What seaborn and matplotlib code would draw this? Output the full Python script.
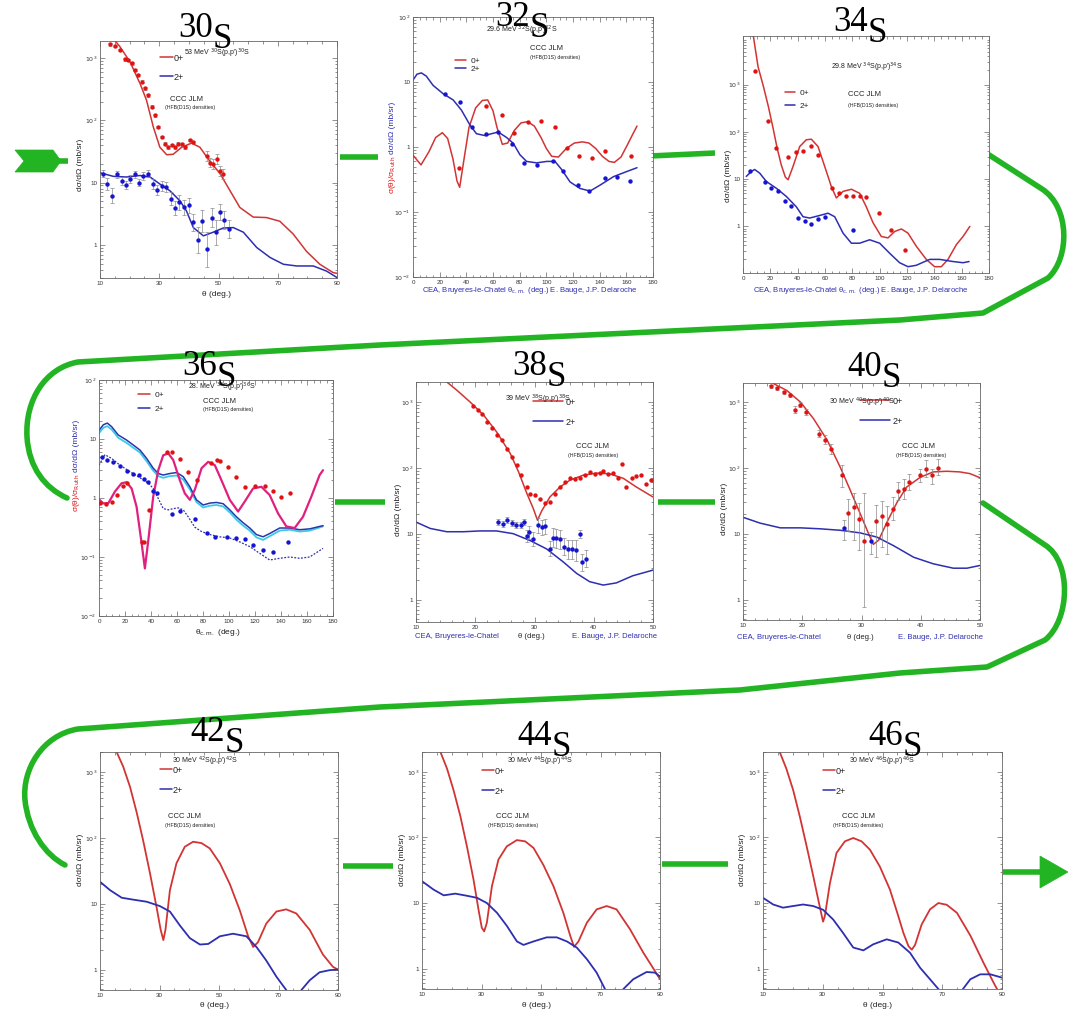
import numpy as np
import matplotlib
matplotlib.use("Agg")
import matplotlib.pyplot as plt
from matplotlib.ticker import FixedLocator, FixedFormatter, LogLocator, NullFormatter, MultipleLocator
from matplotlib.lines import Line2D
from matplotlib.path import Path
from matplotlib.patches import PathPatch, Polygon
import seaborn as sns

sns.set_style("ticks")
plt.rcParams["font.family"] = ["Liberation Sans", "DejaVu Sans"]

# === Data (theta in deg, cross sections) ===
# 30S, 53 MeV
s30_th_0p = [13, 16.7, 20.1, 23.5, 25.7, 28, 30.2, 32.5, 34.7, 37.6, 40.9, 43.7, 47.1, 50.5, 53.9, 57.2, 61.7, 66.2, 70.7, 75.2, 79.7, 84.2, 88.7, 90]
s30_xs_0p = [2500, 1520, 870, 390, 210, 78, 37, 28, 28.5, 37, 43, 37, 22, 14, 7.4, 4.0, 2.8, 2.75, 2.4, 1.5, 0.79, 0.49, 0.36, 0.35]
s30_th_2p = [10, 14.5, 19, 23.5, 26.9, 30.2, 33.6, 37, 39.2, 41.5, 44.9, 48.2, 51.6, 55, 58.4, 62.9, 67.4, 71.9, 76.4, 82, 86.5, 90]
s30_xs_2p = [14.4, 12.6, 12.3, 13, 12.3, 9.5, 7.4, 5.1, 3.5, 1.9, 1.4, 1.6, 1.87, 1.9, 1.6, 0.91, 0.63, 0.49, 0.46, 0.46, 0.38, 0.30]
s30_th_d0 = [13.4, 15.1, 16.7, 18.4, 19.6, 20.7, 21.8, 22.9, 24.1, 25.2, 26.3, 27.4, 28.6, 29.7, 30.8, 31.9, 33.1, 34.2, 35.3, 36.4, 37.6, 38.7, 40.4, 41.5, 46.0, 47.1, 48.2, 49.4, 50.5, 51.6]
s30_xs_d0 = [1660, 1560, 1350, 950, 930, 820, 640, 530, 415, 325, 250, 165, 120, 78, 54, 42, 37, 40, 37, 42, 41, 37, 48, 45, 27, 21, 20, 24, 15.5, 13.7]
s30_er_d0 = [1.05] * 24 + [1.2, 1.2, 1.2, 1.2, 1.2, 1.2]
s30_th_d2 = [10.9, 12.5, 14.0, 15.6, 17.3, 18.7, 20.1, 21.8, 23.3, 24.6, 26.3, 27.8, 29.3, 30.8, 32.2, 33.8, 35.3, 36.8, 38.3, 40.0, 41.5, 43.0, 44.5, 46.0, 47.7, 49.1, 50.5, 52.0, 53.6]
s30_xs_d2 = [14, 9.5, 6.2, 13.5, 10.7, 9.1, 11.4, 13.5, 10, 12.7, 14, 9.6, 7.6, 8.9, 8.4, 5.5, 3.9, 4.8, 4.0, 4.3, 2.3, 1.2, 2.4, 0.85, 2.75, 1.6, 3.4, 2.5, 1.8]
s30_er_d2 = [1.15, 1.25, 1.3, 1.15, 1.15, 1.15, 1.15, 1.15, 1.15, 1.15, 1.15, 1.2, 1.2, 1.2, 1.2, 1.28, 1.3, 1.3, 1.3, 1.3, 1.35, 1.6, 1.5, 1.9, 1.4, 1.6, 1.35, 1.4, 1.4]

# 32S, 29.6 MeV (0+ as ratio to Rutherford)
s32_th_0p = [0, 6, 12, 17, 22, 26, 30, 33, 35, 38, 42, 47, 52, 56, 60, 63, 67, 71, 76, 81, 86, 91, 96, 100, 104, 109, 115, 121, 127, 132, 137, 142, 147, 151, 156, 161, 165, 168]
s32_xs_0p = [0.75, 0.53, 0.85, 1.4, 1.66, 1.35, 0.65, 0.3, 0.24, 0.6, 2.0, 4.0, 5.2, 5.3, 3.6, 2.0, 1.1, 1.15, 1.8, 2.35, 2.45, 2.1, 1.4, 0.95, 0.72, 0.7, 0.95, 1.15, 1.2, 1.15, 0.95, 0.72, 0.6, 0.58, 0.7, 1.1, 1.6, 2.1]
s32_th_2p = [0, 3, 6.3, 10, 15, 22.6, 30.1, 36.3, 42.6, 47.6, 53.9, 58.9, 63.9, 70.2, 75.2, 80.2, 85.2, 92.7, 100.3, 106.5, 111.5, 117.8, 125.3, 132.8, 140.4, 150.4, 160.4, 168]
s32_xs_2p = [10.7, 13.2, 13.8, 12.3, 8.9, 6.6, 5.3, 3.7, 2.2, 1.6, 1.5, 1.6, 1.7, 1.4, 1.14, 0.76, 0.6, 0.57, 0.6, 0.6, 0.45, 0.29, 0.23, 0.21, 0.26, 0.35, 0.42, 0.48]
s32_th_d0 = [34.6, 55.1, 66.4, 75.9, 86.5, 95.7, 106.5, 115.3, 124.6, 134, 144, 163.4]
s32_xs_d0 = [0.47, 4.3, 3.1, 1.66, 2.4, 2.5, 2.0, 0.95, 0.73, 0.67, 0.86, 0.73]
s32_th_d2 = [23.8, 35.6, 44.4, 54.6, 63.9, 73.9, 83.2, 92.7, 104.8, 112.8, 124, 132.3, 144.1, 152.9, 162.9]
s32_xs_d2 = [6.5, 5.0, 2.05, 1.58, 1.7, 1.12, 0.57, 0.53, 0.6, 0.43, 0.26, 0.21, 0.33, 0.35, 0.30]

# 34S, 29.8 MeV
s34_th_0p = [7.3, 11, 15, 18.5, 22, 25, 28, 31, 33, 36.6, 41.5, 46.3, 50, 54.9, 59.8, 64.6, 68.3, 73.2, 79.3, 85.4, 90.2, 95.1, 101.2, 106.1, 111, 115.9, 120.7, 126.8, 134.1, 140.2, 145.1, 150, 156.1, 161, 166]
s34_xs_0p = [12000, 2400, 900, 350, 120, 45, 20, 11, 9.7, 18.5, 49, 68, 70, 49, 18.5, 7, 4, 5.5, 6.1, 5, 2.6, 1.2, 0.61, 0.57, 0.78, 0.88, 0.72, 0.38, 0.2, 0.14, 0.14, 0.2, 0.41, 0.61, 1.0]
s34_th_2p = [2.4, 6.1, 8.5, 12.2, 17.1, 24.4, 31.7, 39, 43.9, 48.8, 56.1, 62.2, 67.1, 73.2, 79.3, 85.4, 92.7, 100, 107.3, 114.6, 120.7, 126.8, 136.6, 143.9, 153.7, 161, 165.4]
s34_xs_2p = [11.4, 14.5, 16, 13.4, 8.9, 6.4, 4.3, 2.6, 1.6, 1.5, 1.7, 1.9, 1.6, 0.72, 0.44, 0.44, 0.52, 0.44, 0.27, 0.17, 0.14, 0.15, 0.2, 0.2, 0.18, 0.17, 0.18]
s34_th_d0 = [8.5, 18.5, 23.9, 32.9, 39, 44, 50, 54.9, 65.1, 70.2, 75.6, 80.5, 85.4, 90.2, 99.3, 108.5, 118.3]
s34_xs_d0 = [1990, 170, 45, 30, 38, 40, 50, 33, 6.5, 5, 4.3, 4.4, 4.4, 4.2, 1.9, 0.85, 0.32]
s34_th_d2 = [4.9, 15.9, 20.7, 25.6, 30.5, 35.4, 40.2, 45.1, 50, 54.9, 59.8, 80.5]
s34_xs_d2 = [14.5, 8.9, 6.4, 5.5, 3.4, 2.7, 1.5, 1.3, 1.14, 1.43, 1.57, 0.85]

# 36S, 28 MeV
s36_th_0p = [0, 3.3, 7.2, 12.3, 17.4, 21.2, 25.1, 28.9, 32.8, 35.3, 37.9, 41.7, 45.6, 49.4, 53.3, 57.1, 62.2, 66, 69.9, 73.7, 78.9, 84, 89.1, 94.2, 100.6, 107, 112.1, 118.5, 124.9, 131.3, 137.7, 144.1, 150.5, 156.9, 163.3, 169.7, 172.3]
s36_xs_0p = [0.95, 0.81, 0.82, 1.29, 1.78, 1.85, 1.45, 0.71, 0.17, 0.064, 0.19, 1.05, 2.96, 5.3, 5.7, 4.4, 2.0, 1.2, 0.93, 1.38, 3.2, 4.1, 3.6, 2.0, 0.93, 0.59, 0.87, 1.45, 1.55, 1.12, 0.55, 0.33, 0.31, 0.48, 1.05, 2.45, 2.96]
s36_th_2p = [0, 3.3, 6.4, 9.7, 14.8, 21.2, 26.4, 31.5, 36.6, 41.7, 45.6, 49.4, 54.5, 59.7, 64.8, 69.9, 75, 80.1, 85.3, 90.4, 95.5, 100.6, 105.7, 110.9, 116, 121.1, 126.2, 131.3, 139, 146.7, 154.4, 162.1, 172.3]
s36_xs_2p = [14, 17.4, 18.6, 16.2, 11.7, 9.6, 7.9, 6.5, 4.7, 3.2, 2.6, 2.45, 2.6, 2.7, 2.3, 1.55, 0.93, 0.76, 0.82, 0.84, 0.8, 0.63, 0.48, 0.38, 0.31, 0.24, 0.22, 0.25, 0.31, 0.31, 0.29, 0.30, 0.34]
s36_xs_cy = [12.5, 15.5, 16.5, 14.5, 10.5, 8.6, 7.1, 5.9, 4.2, 2.9, 2.35, 2.2, 2.35, 2.4, 2.05, 1.4, 0.85, 0.69, 0.74, 0.76, 0.72, 0.57, 0.43, 0.34, 0.28, 0.215, 0.195, 0.225, 0.28, 0.29, 0.27, 0.28, 0.33]
s36_th_dt = [0, 4.6, 9.7, 16.1, 23.8, 31.5, 37.9, 41.7, 45.6, 49.4, 53.3, 57.1, 61, 64.8, 68.6, 73.7, 78.9, 85.3, 92.9, 100.6, 108.3, 116, 123.7, 131.3, 139, 146.7, 154.4, 162.1, 172.3]
s36_xs_dt = [3.6, 5.4, 4.7, 3.6, 2.8, 2.2, 1.8, 1.45, 0.98, 0.66, 0.63, 0.66, 0.68, 0.63, 0.48, 0.32, 0.27, 0.24, 0.22, 0.21, 0.18, 0.15, 0.115, 0.089, 0.095, 0.1, 0.095, 0.1, 0.14]
s36_th_d0 = [0.8, 5.4, 9.7, 14.1, 18.2, 21.8, 32.8, 34.6, 38.4, 52, 55.8, 62.2, 68.6, 75, 86.5, 90.4, 93.4, 99.3, 105.7, 112.1, 119.8, 127.5, 133.9, 140.3, 146.7]
s36_xs_d0 = [0.83, 0.8, 0.86, 1.12, 1.6, 1.8, 0.18, 0.18, 0.63, 6.1, 6.1, 4.6, 2.8, 2.0, 3.9, 4.4, 4.3, 3.3, 2.3, 1.55, 1.6, 1.6, 1.3, 1.05, 1.23]
s36_th_d2 = [2, 5.9, 11, 16.1, 21.2, 26.4, 31, 34.6, 37.9, 41.2, 44.3, 55.8, 62.2, 73.7, 82.7, 89.1, 98.1, 105.7, 112.1, 118.5, 126.2, 133.9, 145.4]
s36_xs_d2 = [5.0, 4.4, 4.1, 3.5, 2.9, 2.6, 2.45, 2.1, 1.9, 1.3, 1.2, 0.54, 0.6, 0.44, 0.26, 0.22, 0.22, 0.21, 0.2, 0.16, 0.13, 0.12, 0.18]

# 38S, 39 MeV
s38_th_0p = [14, 15.2, 16.9, 19.1, 21.4, 23.6, 25.9, 27.3, 28.7, 29.8, 30.5, 31.2, 32.6, 34.3, 36, 38.2, 40.5, 42.7, 45, 47.2, 50]
s38_xs_0p = [2800, 2000, 1500, 1000, 630, 350, 165, 87, 41, 24, 16, 22, 36, 51, 65, 77, 83, 81, 69, 51, 36]
s38_th_2p = [10, 12.4, 15.2, 18, 20.8, 23.6, 26.4, 29.2, 32, 34.9, 37.1, 39.3, 41.6, 43.8, 46.6, 50]
s38_xs_2p = [15, 12, 10.7, 10.7, 11, 11, 10, 7.9, 5.9, 3.7, 2.5, 1.87, 1.66, 1.79, 2.3, 2.8]
s38_th_d0 = [19.7, 20.4, 21.1, 21.9, 22.8, 23.6, 24.5, 25.3, 26.2, 27, 27.8, 28.7, 29.2, 30.1, 30.9, 31.8, 32.6, 33.5, 34.3, 35.1, 36, 36.8, 37.7, 38.5, 39.3, 40.2, 41, 41.6, 42.4, 43.3, 44.1, 44.7, 45.5, 46.4, 47.2, 48, 48.9, 49.7]
s38_xs_d0 = [860, 750, 650, 500, 395, 310, 260, 195, 145, 110, 77, 51, 40, 38, 33, 29, 30, 40, 51, 61, 69, 67, 71, 77, 87, 81, 83, 89, 81, 83, 69, 113, 51, 69, 74, 77, 56, 65]
s38_th_d2 = [23.9, 24.6, 25.3, 26.2, 26.9, 27.7, 28.2, 28.7, 29.1, 29.8, 30.6, 31.2, 31.8, 32.6, 33.2, 33.7, 34.3, 35, 35.7, 36.3, 37, 37.7, 38.1, 38.7]
s38_xs_d2 = [15, 14, 16, 14.5, 13.5, 13.5, 15, 9.2, 10.5, 8.2, 13.5, 12.6, 13, 5.9, 8.7, 8.5, 8.2, 6.3, 5.8, 5.8, 5.6, 10, 3.7, 4.2]
s38_er_d2 = [1.1, 1.1, 1.1, 1.1, 1.1, 1.1, 1.1, 1.25, 1.25, 1.28, 1.3, 1.3, 1.3, 1.3, 1.4, 1.4, 1.4, 1.35, 1.4, 1.4, 1.45, 1.15, 1.35, 1.35]

# 40S, 30 MeV
s40_th_0p = [14, 15.2, 17.4, 19.7, 21.9, 24.2, 26.4, 28.1, 29.8, 31.2, 32, 32.9, 34.3, 36, 37.6, 39.9, 42.1, 44.4, 46.6, 48.3, 50]
s40_xs_0p = [2600, 1900, 1500, 1000, 560, 265, 103, 46, 20, 10, 6.9, 8, 15, 30, 51, 72, 87, 89, 87, 82, 71]
s40_th_2p = [10, 12.9, 16.3, 19.7, 23, 26.4, 29.8, 32.6, 35.4, 38.8, 42.1, 45.5, 47.8, 50]
s40_xs_2p = [17.8, 14.5, 12.3, 12.3, 11.9, 11.3, 10.3, 8.9, 6.6, 4.4, 3.5, 3.0, 3.0, 3.3]
s40_th_d0 = [14.8, 15.8, 16.9, 17.9, 18.7, 19.6, 20.7, 22.9, 23.9, 24.9, 26.7, 27.7, 28.7, 29.5, 30.5, 32.5, 33.4, 34.3, 35.3, 36.1, 37.2, 38.1, 39.9, 40.9, 41.9, 42.9]
s40_xs_d0 = [1730, 1620, 1420, 1260, 765, 910, 705, 330, 270, 195, 77, 21, 25.5, 17, 7.8, 15.5, 18.6, 14, 24, 45, 48, 61, 77, 95, 77, 100]
s40_lo_d0 = [1650, 1540, 1350, 1190, 680, 830, 640, 290, 230, 165, 51, 11, 8, 5.6, 0.78, 4.5, 6.3, 5, 16, 33, 34, 46, 61, 73, 58, 77]
s40_hi_d0 = [1810, 1700, 1500, 1330, 860, 1000, 780, 380, 320, 230, 110, 34, 41, 29, 41, 27, 32, 26, 36, 61, 69, 81, 98, 130, 98, 138]
s40_th_d2 = [27.1, 31.6]
s40_xs_d2 = [12.3, 7.8]
s40_lo_d2 = [8, 5]
s40_hi_d2 = [16, 10.7]

# 42S, 44S, 46S, 30 MeV (predictions only)
s42_th_0p = [14, 15.6, 17.8, 20.1, 22.3, 24.5, 26.8, 29, 30.4, 31.3, 32, 33.5, 35.7, 38.5, 41.3, 44.1, 46.9, 50.3, 53.6, 57, 59.8, 61.5, 63.1, 65.9, 69.3, 72.6, 76, 80.5, 84.9, 88.3, 90]
s42_xs_0p = [3200, 2000, 1200, 590, 245, 91, 29, 8.9, 4, 2.8, 4, 16, 41, 73, 87, 83, 69, 41, 20, 7.9, 3.2, 2.2, 2.6, 5, 7.6, 8.2, 7.1, 4, 1.7, 1.1, 1.0]
s42_th_2p = [10, 13.4, 17.3, 21.2, 25.7, 30.1, 33.5, 36.8, 40.2, 43.6, 46.4, 50.3, 54.7, 59.2, 62.6, 65.9, 69.3, 72.6, 73.8, 75.5, 77.7, 80.5, 83.8, 87.2, 90]
s42_xs_2p = [21.5, 16, 12.3, 11.5, 10.7, 9.2, 7.6, 4.7, 3.0, 2.4, 2.45, 3.2, 3.5, 3.2, 2.2, 1.37, 0.78, 0.49, 0.4, 0.25, 0.49, 0.69, 0.91, 0.98, 1.0]
s44_th_0p = [15, 16.2, 18.4, 20.6, 22.9, 25.1, 27.3, 29, 30.1, 30.9, 31.8, 33.5, 35.7, 38.5, 41.9, 44.7, 47.5, 50.8, 54.2, 57.5, 59.8, 61.1, 62.6, 65.4, 68.7, 72.1, 75.4, 79.9, 84.4, 88.3, 90]
s44_xs_0p = [3000, 2000, 1120, 525, 210, 73, 23, 7.9, 4.2, 3.7, 5, 18, 46, 73, 91, 87, 69, 38, 18, 7.1, 3.2, 2.15, 2.6, 5, 8, 9, 8, 4, 1.75, 0.92, 0.69]
s44_th_2p = [10, 13.9, 17.3, 21.2, 25.1, 28.5, 31.8, 35.2, 38.5, 41.9, 44.1, 47.5, 51.9, 55.3, 58.7, 62, 65.4, 68.7, 71.5, 72.6, 74.5, 77.7, 81, 85.5, 88.3, 90]
s44_xs_2p = [21.5, 16, 13.1, 13.9, 12.9, 12, 10, 7.1, 4.5, 2.6, 2.3, 2.6, 3.0, 3.0, 2.6, 2.1, 1.4, 0.87, 0.49, 0.4, 0.25, 0.49, 0.69, 0.89, 0.87, 0.76]
s46_th_0p = [14, 15.6, 17.8, 20.1, 22.3, 24.5, 26.8, 28.5, 29.6, 30.1, 30.7, 32.4, 34.6, 37.4, 40.2, 43, 45.8, 49.1, 52.5, 55.3, 57, 58.7, 59.8, 60.9, 63.1, 65.9, 68.7, 71.5, 74.9, 79.4, 83.8, 87.2, 89.4, 90]
s46_xs_0p = [3000, 2000, 1120, 525, 210, 77, 26, 11.2, 6.6, 5.2, 6.3, 20, 58, 87, 98, 87, 65, 36, 16, 6.3, 3.5, 2.2, 1.95, 2.3, 4.7, 8, 10, 9.4, 7.1, 3.2, 1.23, 0.61, 0.4, 0.35]
s46_th_2p = [10, 13.4, 16.7, 20.1, 23.4, 26.8, 30.1, 33.5, 36.8, 40.2, 43.6, 46.9, 51.4, 55.3, 59.2, 62.6, 65.9, 68.7, 69.8, 71.5, 76, 79.4, 82.7, 86.1, 90]
s46_xs_2p = [12, 9.5, 8.5, 9, 9.5, 9, 7.9, 5.6, 3.5, 2.1, 1.9, 2.35, 2.8, 2.5, 1.75, 1.03, 0.69, 0.49, 0.4, 0.3, 0.43, 0.69, 0.82, 0.82, 0.73]

# === Styles ===
RED_L, BLUE_L = "#d23434", "#2e2eb0"
RED_P, BLUE_P = "#e01212", "#1414d2"
MAGENTA, CYAN, DBLUE = "#e0207f", "#3cc8ea", "#2838a8"
GREEN = "#22b422"
W, H = 1068, 1013

fig = plt.figure(figsize=(W / 100, H / 100), dpi=100)
fig.patch.set_facecolor("white")


def put(x, y, s, size=5, color="#222222", **kw):
    fig.text(x / W, 1 - y / H, s, fontsize=size, color=color, **kw)


def panel(box, xlim, xticks, xminor, ylim, ylabs):
    l, t, r, b = box
    ax = fig.add_axes([l / W, 1 - b / H, (r - l) / W, (b - t) / H], zorder=1)
    ax.set_yscale("log")
    ax.xaxis.set_major_locator(FixedLocator(xticks))
    ax.xaxis.set_major_formatter(FixedFormatter([str(v) for v in xticks]))
    ax.xaxis.set_minor_locator(MultipleLocator(xminor))
    ax.yaxis.set_major_locator(FixedLocator(list(ylabs.keys())))
    ax.yaxis.set_major_formatter(FixedFormatter(list(ylabs.values())))
    ax.yaxis.set_minor_locator(LogLocator(base=10, subs=np.arange(2, 10) * 1.0, numticks=30))
    ax.yaxis.set_minor_formatter(NullFormatter())
    ax.tick_params(which="both", direction="in", top=True, right=True, width=0.5,
                   color="#666666", labelsize=4.5, labelcolor="#333333", pad=2)
    ax.tick_params(which="major", length=3.5)
    ax.tick_params(which="minor", length=1.8)
    for sp in ax.spines.values():
        sp.set_linewidth(0.6)
        sp.set_color("#666666")
    ax._lims = (xlim, ylim)
    return ax


def curve(ax, th, xs, color, lw=1.1, ls="-"):
    sns.lineplot(x=th, y=xs, ax=ax, color=color, linewidth=lw, linestyle=ls,
                 estimator=None, sort=False, legend=False)


def dots(ax, th, xs, color, f=None, lo=None, hi=None):
    th = np.asarray(th, float)
    xs = np.asarray(xs, float)
    if f is not None:
        f = np.asarray(f, float)
        lo, hi = xs / f, xs * f
    if lo is not None:
        ax.errorbar(th, xs, yerr=[xs - np.asarray(lo), np.asarray(hi) - xs], fmt="none",
                    ecolor="#8a8a8a", elinewidth=0.5, capsize=1.2, capthick=0.5, zorder=2)
    sns.scatterplot(x=th, y=xs, ax=ax, color=color, s=10, linewidth=0, zorder=3, legend=False)


def finish(ax):
    xlim, ylim = ax._lims
    ax.set_xlim(*xlim)
    ax.set_ylim(*ylim)
    ax.set_xlabel("")
    ax.set_ylabel("")


def legend_at(ax, box, x, y, gap, hl, fs=6.5, pad=0.15):
    l, t, r, b = box
    fpx = fs * 100 / 72
    handles = [Line2D([], [], color=RED_L, lw=1.1), Line2D([], [], color=BLUE_L, lw=1.1)]
    ax.legend(handles, ["0+", "2+"], loc="upper left",
              bbox_to_anchor=((x - l) / (r - l), (b - (y - fpx * 0.6)) / (b - t)),
              frameon=False, fontsize=fs, borderpad=0, borderaxespad=0,
              handlelength=hl / fpx, handletextpad=pad,
              labelspacing=max(gap - fpx, 0) / fpx)


def title(x, y, num):
    put(x, y, num, size=25, color="black", family="Liberation Serif", va="baseline", ha="left")
    put(x + 35, y + 11, "S", size=25, color="black", family="Liberation Serif", va="baseline", ha="left")


Y_HI = {1: "1", 10: "10", 100: r"$10^2$", 1000: r"$10^3$"}
Y_LO = {0.01: r"$10^{-2}$", 0.1: r"$10^{-1}$", 1: "1", 10: "10", 100: r"$10^2$"}
Y_34 = {0.1: r"$10^{-1}$", 1: "1", 10: "10", 100: r"$10^2$", 1000: r"$10^3$"}
X_90 = [10, 30, 50, 70, 90]
X_180 = list(range(0, 181, 20))
X_50 = [10, 20, 30, 40, 50]
DSIG = "dσ/dΩ (mb/sr)"

# === Green arrows (drawn underneath the panels) ===
ax_g = fig.add_axes([0, 0, 1, 1], zorder=0)
ax_g.set_xlim(0, W)
ax_g.set_ylim(H, 0)
ax_g.axis("off")
ax_g.patch.set_alpha(0)
M, L, C = Path.MOVETO, Path.LINETO, Path.CURVE4
loop1 = [(983, 151), (1042, 189), (1070, 207), (1070, 258), (1048, 278), (983, 313), (900, 320),
         (380, 345), (78, 362), (45, 368), (25, 400), (27, 437), (29, 468), (45, 488), (67, 498)]
codes1 = [M, L, C, C, C, L, L, L, L, C, C, C, C, C, C]
loop2 = [(983, 503), (1045, 545), (1072, 562), (1070, 620), (1045, 640), (987, 667), (900, 673),
         (740, 690), (380, 707), (78, 729), (42, 735), (22, 770), (25, 800), (28, 830), (45, 855), (65, 865)]
codes2 = [M, L, C, C, C, L, L, L, L, L, C, C, C, C, C, C]
for v, c in [(loop1, codes1), (loop2, codes2)]:
    ax_g.add_patch(PathPatch(Path(v, c), fill=False, ec=GREEN, lw=4, capstyle="round", joinstyle="round"))
for (x0, y0), (x1, y1) in [((58, 161), (68, 161)), ((340, 157), (378, 157)), ((650, 156), (715, 153)),
                           ((335, 502), (385, 502)), ((658, 502), (715, 502)),
                           ((343, 866), (393, 866)), ((662, 864), (728, 864)), ((1003, 872), (1045, 872))]:
    ax_g.plot([x0, x1], [y0, y1], color=GREEN, lw=4, solid_capstyle="butt")
ax_g.add_patch(Polygon([(15, 150), (53, 150), (61, 161), (53, 172), (15, 172), (24, 161)], fc=GREEN, ec=GREEN, lw=0.5))
ax_g.add_patch(Polygon([(1040, 856), (1068, 872), (1040, 888)], fc=GREEN, ec=GREEN, lw=0.5))

# === 30S ===
b30 = (100, 41, 337, 278)
ax = panel(b30, (10, 90), X_90, 5, (0.295, 1870), Y_HI)
curve(ax, s30_th_0p, s30_xs_0p, RED_L)
curve(ax, s30_th_2p, s30_xs_2p, BLUE_L)
dots(ax, s30_th_d0, s30_xs_d0, RED_P, f=s30_er_d0)
dots(ax, s30_th_d2, s30_xs_d2, BLUE_P, f=s30_er_d2)
legend_at(ax, b30, 160, 59, 19, 13, pad=0.1)
finish(ax)
title(178, 37, "30")
put(217, 53, r"53 MeV $^{30}$S(p,p')$^{30}$S", size=5, ha="center", va="center")
put(186, 99, "CCC JLM", size=5.5, ha="center", va="center")
put(190, 108, "(HFB(D1S) densities)", size=3.8, ha="center", va="center")
put(81, 165, DSIG, size=6, rotation=90, ha="center", va="center")
put(216, 295, "θ (deg.)", size=6, ha="center", va="center")

# === 32S ===
b32 = (413, 17, 653, 277)
ax = panel(b32, (0, 180), X_180, 5, (0.01, 100), Y_LO)
curve(ax, s32_th_0p, s32_xs_0p, RED_L)
curve(ax, s32_th_2p, s32_xs_2p, BLUE_L)
dots(ax, s32_th_d0, s32_xs_d0, RED_P)
dots(ax, s32_th_d2, s32_xs_d2, BLUE_P)
legend_at(ax, b32, 455, 62, 8, 11, fs=6, pad=0.6)
finish(ax)
title(495, 26, "32")
put(522, 30, r"29.6 MeV $^{32}$S(p,p')$^{32}$S", size=5, ha="center", va="center")
put(530, 49, "CCC JLM", size=5.5, ha="left", va="center")
put(530, 58, "(HFB(D1S) densities)", size=3.8, ha="left", va="center")
put(393, 156, r"σ(θ)/σ$_{\rm Ruth}$", size=6, color=RED_P, rotation=90, ha="center", va="top")
put(393, 154, DSIG, size=6, color=BLUE_L, rotation=90, ha="center", va="bottom")
put(530, 290, r"CEA, Bruyeres-le-Chatel θ$_{\rm c.m.}$ (deg.) E. Bauge, J.P. Delaroche",
    size=5.5, color=BLUE_L, ha="center", va="center")

# === 34S ===
b34 = (743, 36, 989, 273)
ax = panel(b34, (0, 180), X_180, 5, (0.103, 10700), Y_34)
curve(ax, s34_th_0p, s34_xs_0p, RED_L)
curve(ax, s34_th_2p, s34_xs_2p, BLUE_L)
dots(ax, s34_th_d0, s34_xs_d0, RED_P)
dots(ax, s34_th_d2, s34_xs_d2, BLUE_P)
legend_at(ax, b34, 785, 94, 14, 10, fs=6, pad=0.6)
finish(ax)
title(833, 31, "34")
put(867, 67, r"29.8 MeV $^{34}$S(p,p')$^{34}$S", size=5, ha="center", va="center")
put(848, 95, "CCC JLM", size=5.5, ha="left", va="center")
put(848, 105, "(HFB(D1S) densities)", size=3.8, ha="left", va="center")
put(729, 176, DSIG, size=6, rotation=90, ha="center", va="center")
put(861, 290, r"CEA, Bruyeres-le-Chatel θ$_{\rm c.m.}$ (deg.) E. Bauge, J.P. Delaroche",
    size=5.5, color=BLUE_L, ha="center", va="center")

# === 36S ===
b36 = (99, 380, 333, 616)
ax = panel(b36, (0, 180), X_180, 5, (0.01, 100), Y_LO)
curve(ax, s36_th_2p, s36_xs_cy, CYAN, lw=1.3)
curve(ax, s36_th_2p, s36_xs_2p, DBLUE, lw=1.1)
curve(ax, s36_th_dt, s36_xs_dt, BLUE_L, lw=0.9, ls=(0, (1.5, 1.2)))
curve(ax, s36_th_0p, s36_xs_0p, MAGENTA, lw=1.6)
dots(ax, s36_th_d0, s36_xs_d0, RED_P)
dots(ax, s36_th_d2, s36_xs_d2, BLUE_P)
legend_at(ax, b36, 138, 396, 15, 12, fs=6, pad=0.6)
finish(ax)
title(182, 375, "36")
put(222, 387, r"28. MeV $^{36}$S(p,p')$^{36}$S", size=5, ha="center", va="center")
put(203, 401, "CCC JLM", size=5.5, ha="left", va="center")
put(203, 410, "(HFB(D1S) densities)", size=3.8, ha="left", va="center")
put(77, 474, r"σ(θ)/σ$_{\rm Ruth}$", size=6, color=RED_P, rotation=90, ha="center", va="top")
put(77, 472, DSIG, size=6, color=BLUE_L, rotation=90, ha="center", va="bottom")
put(218, 633, r"θ$_{\rm c.m.}$ (deg.)", size=6, ha="center", va="center")

# === 38S ===
b38 = (416, 382, 653, 622)
ax = panel(b38, (10, 50), X_50, 2, (0.457, 2000), Y_HI)
curve(ax, s38_th_0p, s38_xs_0p, RED_L)
curve(ax, s38_th_2p, s38_xs_2p, BLUE_L)
dots(ax, s38_th_d0, s38_xs_d0, RED_P)
dots(ax, s38_th_d2, s38_xs_d2, BLUE_P, f=s38_er_d2)
legend_at(ax, b38, 533, 403, 20, 30, fs=6.5, pad=0.3)
finish(ax)
title(512, 375, "38")
put(538, 399, r"39 MeV $^{38}$S(p,p')$^{38}$S", size=5, ha="center", va="center")
put(593, 446, "CCC JLM", size=5.5, ha="center", va="center")
put(593, 455, "(HFB(D1S) densities)", size=3.8, ha="center", va="center")
put(398, 510, DSIG, size=6, rotation=90, ha="center", va="center")
put(415, 636, "CEA, Bruyeres-le-Chatel", size=5.5, color=BLUE_L, ha="left", va="center")
put(518, 636, "θ (deg.)", size=5.5, ha="left", va="center")
put(572, 636, "E. Bauge, J.P. Delaroche", size=5.5, color=BLUE_L, ha="left", va="center")

# === 40S ===
b40 = (743, 383, 980, 620)
ax = panel(b40, (10, 50), X_50, 2, (0.49, 1950), Y_HI)
curve(ax, s40_th_0p, s40_xs_0p, RED_L)
curve(ax, s40_th_2p, s40_xs_2p, BLUE_L)
dots(ax, s40_th_d0, s40_xs_d0, RED_P, lo=s40_lo_d0, hi=s40_hi_d0)
dots(ax, s40_th_d2, s40_xs_d2, BLUE_P, lo=s40_lo_d2, hi=s40_hi_d2)
legend_at(ax, b40, 860, 402, 20, 30, fs=6.5, pad=0.3)
finish(ax)
title(847, 376, "40")
put(862, 402, r"30 MeV $^{40}$S(p,p')$^{40}$S", size=5, ha="center", va="center")
put(919, 446, "CCC JLM", size=5.5, ha="center", va="center")
put(921, 455, "(HFB(D1S) densities)", size=3.8, ha="center", va="center")
put(725, 509, DSIG, size=6, rotation=90, ha="center", va="center")
put(737, 637, "CEA, Bruyeres-le-Chatel", size=5.5, color=BLUE_L, ha="left", va="center")
put(847, 637, "θ (deg.)", size=5.5, ha="left", va="center")
put(898, 637, "E. Bauge, J.P. Delaroche", size=5.5, color=BLUE_L, ha="left", va="center")

# === 42S, 44S, 46S ===
bottom_row = [
    ("42", (100, 752, 338, 990), s42_th_0p, s42_xs_0p, s42_th_2p, s42_xs_2p,
     (160, 771), (190, 741), 205, (185, 190), 80),
    ("44", (422, 752, 660, 989), s44_th_0p, s44_xs_0p, s44_th_2p, s44_xs_2p,
     (482, 772), (517, 745), 540, (512, 513), 402),
    ("46", (763, 752, 1002, 989), s46_th_0p, s46_xs_0p, s46_th_2p, s46_xs_2p,
     (823, 772), (868, 745), 882, (858, 858), 742),
]
for num, box, t0, x0, t2, x2, leg, tpos, hx, cx, ylx in bottom_row:
    ax = panel(box, (10, 90), X_90, 5, (0.49, 2000), Y_HI)
    curve(ax, t0, x0, RED_L, lw=1.3)
    curve(ax, t2, x2, BLUE_L, lw=1.3)
    legend_at(ax, box, leg[0], leg[1], 20, 12, pad=0.1)
    finish(ax)
    title(tpos[0], tpos[1], num)
    put(hx, 761, r"30 MeV $^{%s}$S(p,p')$^{%s}$S" % (num, num), size=5, ha="center", va="center")
    put(cx[0], 816, "CCC JLM", size=5.5, ha="center", va="center")
    put(cx[1], 825, "(HFB(D1S) densities)", size=3.8, ha="center", va="center")
    put(ylx, 860, DSIG, size=6, rotation=90, ha="center", va="center")
    put((box[0] + box[2]) / 2 - 5, 1005, "θ (deg.)", size=6, ha="center", va="center")

fig.savefig("out.png", dpi=100, facecolor="white")
